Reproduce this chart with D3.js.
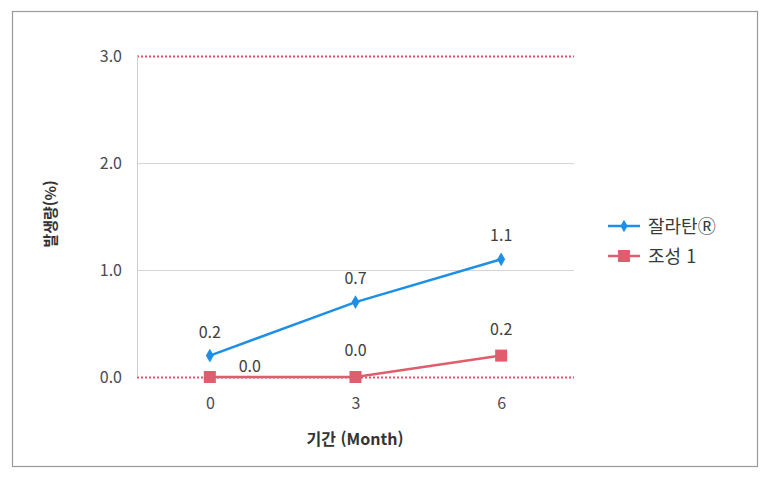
<!DOCTYPE html>
<html lang="ko">
<head>
  <meta charset="UTF-8">
  <title>발생량 추이</title>
  <script src="https://d3js.org/d3.v7.min.js"></script>
  <style>
    body { margin: 0; background: #fff; }
    text { font-family: "Noto Sans CJK KR", "Noto Sans", sans-serif; }
  </style>
</head>
<body>
<div id="chart"></div>
<script>
// chart values
const months = ["0", "3", "6"];
const zalatan = [0.2, 0.7, 1.1];
const formula1 = [0.0, 0.0, 0.2];
const seriesNames = ["잘라탄Ⓡ", "조성 1"];
const yTicks = [0, 1, 2, 3];

// label nudges (dx, dy) per point, blue then red
const blueNudge = [[0, -18], [0, -18], [0, -18]];
const redNudge = [[40, -5], [0, -21], [0, -21]];

const width = 770, height = 479;
const svg = d3.select("#chart").append("svg")
  .attr("width", width)
  .attr("height", height);

// outer frame
svg.append("rect")
  .attr("x", 12.5).attr("y", 11.5)
  .attr("width", 745).attr("height", 455)
  .attr("fill", "none")
  .attr("stroke", "#9a9a9a")
  .attr("stroke-width", 1.2);

const x = d3.scalePoint()
  .domain(months)
  .range([137, 574])
  .padding(0.5);

const y = d3.scaleLinear()
  .domain([0, 3])
  .range([377, 56]);

// grid lines
svg.append("g").selectAll("line")
  .data(yTicks)
  .enter().append("line")
  .attr("x1", 137).attr("x2", 574)
  .attr("y1", d => y(d) + 0.5).attr("y2", d => y(d) + 0.5)
  .attr("stroke", d => (d === 0 || d === 3) ? "#e0506a" : "#d4d4d4")
  .attr("stroke-width", d => (d === 0 || d === 3) ? 2 : 1)
  .attr("stroke-dasharray", d => (d === 0 || d === 3) ? "2,2" : null);

// y axis line
svg.append("line")
  .attr("x1", 137.5).attr("x2", 137.5)
  .attr("y1", 56).attr("y2", 377)
  .attr("stroke", "#cfcfcf");

// y tick labels
const yAxis = d3.axisLeft(y)
  .tickValues(yTicks)
  .tickFormat(d3.format(".1f"))
  .tickSize(0)
  .tickPadding(15);
const gy = svg.append("g")
  .attr("transform", "translate(137,0)")
  .call(yAxis);
gy.select(".domain").remove();
gy.selectAll("text")
  .attr("font-size", 16)
  .attr("fill", "#4a4a55")
  .attr("font-family", "Lato, 'Noto Sans', sans-serif");

// x tick labels
const xAxis = d3.axisBottom(x).tickSize(0).tickPadding(21);
const gx = svg.append("g")
  .attr("transform", "translate(0,377)")
  .call(xAxis);
gx.select(".domain").remove();
gx.selectAll("text")
  .attr("font-size", 16)
  .attr("fill", "#4a4a55")
  .attr("font-family", "Lato, 'Noto Sans', sans-serif");

// axis titles
svg.append("text")
  .attr("x", 355).attr("y", 445)
  .attr("text-anchor", "middle")
  .attr("font-size", 16)
  .attr("font-weight", "bold")
  .attr("fill", "#333")
  .text("기간 (Month)");

svg.append("text")
  .attr("transform", "translate(56,214) rotate(-90)")
  .attr("text-anchor", "middle")
  .attr("font-size", 15)
  .attr("font-weight", "bold")
  .attr("fill", "#333")
  .text("발생량(%)");

const line = d3.line()
  .x((d, i) => x(months[i]))
  .y(d => y(d));

const blue = "#1e8fe6", red = "#df5d6c";

// series lines
svg.append("path").datum(formula1)
  .attr("d", line).attr("fill", "none")
  .attr("stroke", red).attr("stroke-width", 2.5);
svg.append("path").datum(zalatan)
  .attr("d", line).attr("fill", "none")
  .attr("stroke", blue).attr("stroke-width", 2.5);

// markers
svg.append("g").selectAll("rect")
  .data(formula1)
  .enter().append("rect")
  .attr("x", (d, i) => x(months[i]) - 6)
  .attr("y", d => y(d) - 6)
  .attr("width", 12).attr("height", 12)
  .attr("fill", red);

svg.append("g").selectAll("path")
  .data(zalatan)
  .enter().append("path")
  .attr("d", d3.symbol().type(d3.symbolDiamond).size(55))
  .attr("transform", (d, i) => `translate(${x(months[i])},${y(d)})`)
  .attr("fill", blue);

// data labels
const fmt = d3.format(".1f");
svg.append("g").selectAll("text")
  .data(zalatan)
  .enter().append("text")
  .attr("x", (d, i) => x(months[i]) + blueNudge[i][0])
  .attr("y", (d, i) => y(d) + blueNudge[i][1])
  .attr("text-anchor", "middle")
  .attr("font-size", 16)
  .attr("fill", "#404040")
  .text(d => fmt(d));

svg.append("g").selectAll("text")
  .data(formula1)
  .enter().append("text")
  .attr("x", (d, i) => x(months[i]) + redNudge[i][0])
  .attr("y", (d, i) => y(d) + redNudge[i][1])
  .attr("text-anchor", "middle")
  .attr("font-size", 16)
  .attr("fill", "#404040")
  .text(d => fmt(d));

// legend
const legend = svg.append("g").attr("transform", "translate(608,226)");
const colors = [blue, red];
seriesNames.forEach((name, i) => {
  const g = legend.append("g").attr("transform", `translate(0,${i * 30})`);
  g.append("line")
    .attr("x1", 0).attr("x2", 32)
    .attr("stroke", colors[i]).attr("stroke-width", 2.5);
  if (i === 0) {
    g.append("path")
      .attr("d", d3.symbol().type(d3.symbolDiamond).size(45))
      .attr("transform", "translate(16,0)")
      .attr("fill", colors[i]);
  } else {
    g.append("rect")
      .attr("x", 10).attr("y", -6)
      .attr("width", 12).attr("height", 12)
      .attr("fill", colors[i]);
  }
  g.append("text")
    .attr("x", 40).attr("y", 7)
    .attr("font-size", 18)
    .attr("fill", "#3a3a3a")
    .text(name);
});
</script>
</body>
</html>
